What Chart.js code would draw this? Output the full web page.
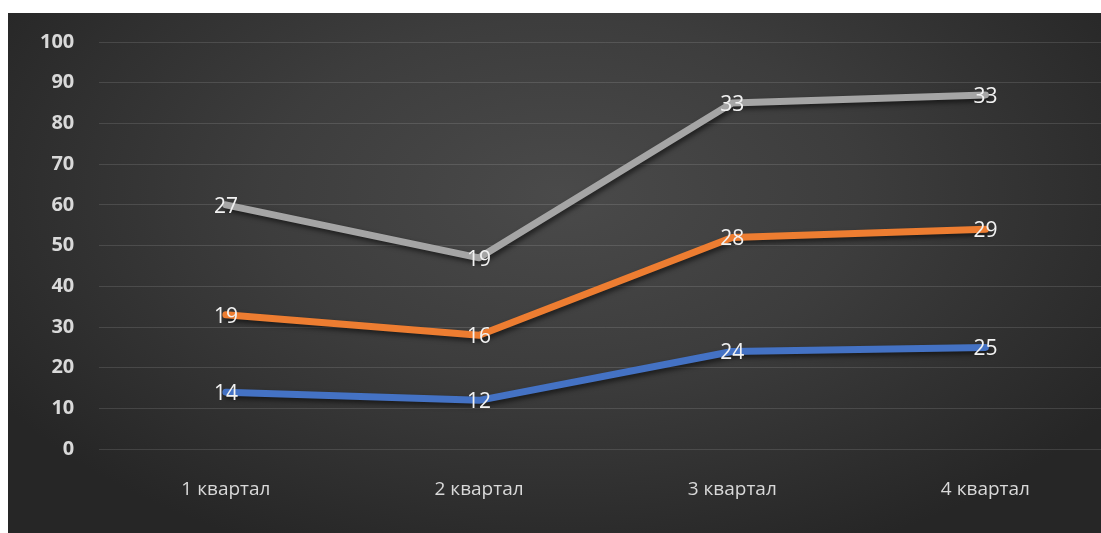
<!DOCTYPE html>
<html>
<head>
<meta charset="utf-8">
<script src="https://cdn.jsdelivr.net/npm/chart.js@4/dist/chart.umd.min.js"></script>
<style>
    html, body { margin: 0; padding: 0; background: #ffffff; overflow: hidden; width: 1101px; height: 533px; }
    #chart-bg {
        position: absolute;
        left: 8px;
        top: 13px;
        width: 1104px;
        height: 520px;
        background: radial-gradient(ellipse 60% 75% at 50% 35%, #4a4a4a 0%, #3d3d3d 45%, #262626 100%);
    }
    #chart-box {
        position: absolute;
        left: 8px;
        top: 5px;
        width: 1104px;
        height: 520px;
    }
</style>
</head>
<body>
<div id="chart-bg"></div>
<div id="chart-box"><canvas id="chart"></canvas></div>
<script>
const quarters = ["1 квартал", "2 квартал", "3 квартал", "4 квартал"];
const series1 = [14, 12, 24, 25];
const series2 = [19, 16, 28, 29];
const series3 = [27, 19, 33, 33];
const yTicks = [0, 10, 20, 30, 40, 50, 60, 70, 80, 90, 100];

const FONT = "'Open Sans', 'Noto Sans', sans-serif";

// shadow under each line, like office charts
const lineShadow = {
    id: "lineShadow",
    beforeDatasetDraw(chart) {
        const ctx = chart.ctx;
        ctx.save();
        ctx.shadowColor = "rgba(0, 0, 0, 0.55)";
        ctx.shadowBlur = 5;
        ctx.shadowOffsetX = 2;
        ctx.shadowOffsetY = 3;
    },
    afterDatasetDraw(chart) {
        chart.ctx.restore();
    },
};

// value labels centred on every point
const pointLabels = {
    id: "pointLabels",
    afterDatasetsDraw(chart) {
        const ctx = chart.ctx;
        ctx.save();
        ctx.font = "21px " + FONT;
        ctx.fillStyle = "#f2f2f2";
        ctx.textAlign = "center";
        ctx.textBaseline = "middle";
        chart.data.datasets.forEach((ds, i) => {
            const meta = chart.getDatasetMeta(i);
            meta.data.forEach((pt, j) => {
                ctx.fillText(String(ds.data[j]), pt.x, pt.y + 2);
            });
        });
        ctx.restore();
    },
};

function lineSet(label, data, color) {
    return {
        label,
        data,
        borderColor: color,
        backgroundColor: color,
        borderWidth: 7,
        pointRadius: 0,
        tension: 0,
        fill: false,
        borderCapStyle: "round",
        borderJoinStyle: "round",
    };
}

new Chart(document.getElementById("chart"), {
    type: "line",
    data: {
        labels: quarters,
        datasets: [
            lineSet("Ряд 1", series1, "#4472c4"),
            lineSet("Ряд 2", series2, "#ed7d31"),
            lineSet("Ряд 3", series3, "#a5a5a5"),
        ],
    },
    options: {
        responsive: true,
        maintainAspectRatio: false,
        animation: false,
        layout: { padding: { top: 10, left: 7, right: 0, bottom: 3 } },
        plugins: {
            legend: { display: false },
            tooltip: { enabled: false },
        },
        scales: {
            x: {
                offset: true,
                grid: { display: false },
                border: { display: false },
                ticks: {
                    color: "#d9d9d9",
                    font: { family: FONT, size: 19 },
                    padding: 21,
                },
            },
            y: {
                stacked: true,
                min: 0,
                max: 100,
                afterBuildTicks(axis) {
                    axis.ticks = yTicks.map(v => ({ value: v }));
                },
                grid: {
                    color: "rgba(255, 255, 255, 0.12)",
                    lineWidth: 1,
                    drawTicks: false,
                },
                border: { display: false },
                ticks: {
                    color: "#d9d9d9",
                    font: { family: FONT, size: 20, weight: "bold" },
                    padding: 25,
                },
            },
        },
    },
    plugins: [lineShadow, pointLabels],
});
</script>
</body>
</html>
